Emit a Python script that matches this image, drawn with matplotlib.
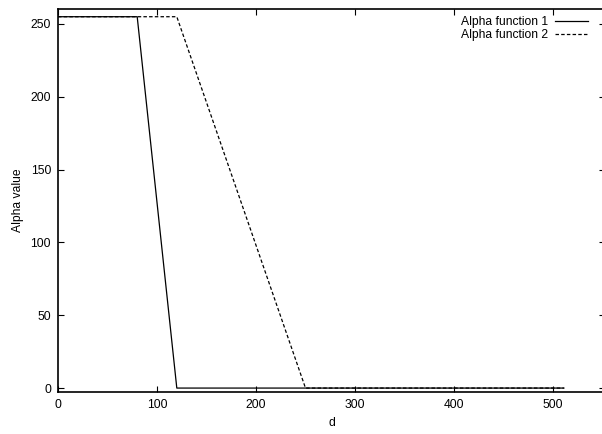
import matplotlib
matplotlib.use("Agg")
import matplotlib.pyplot as plt

d1 = [0, 80, 120, 511]
alpha1 = [255, 255, 0, 0]
d2 = [0, 120, 250, 511]
alpha2 = [255, 255, 0, 0]
xticks = [0, 100, 200, 300, 400, 500]
yticks = [0, 50, 100, 150, 200, 250]

plt.rcParams['font.family'] = ['Liberation Sans', 'DejaVu Sans']
plt.rcParams['lines.scale_dashes'] = False

fig = plt.figure(figsize=(6.02, 4.34), dpi=100)
ax = fig.add_axes([58/602, (434-392)/434, (605-58)/602, (392-9)/434])

ax.plot(d1, alpha1, color='black', lw=0.9, label='Alpha function 1')
ax.plot(d2, alpha2, color='black', lw=0.9, dashes=(2.5, 1.6), label='Alpha function 2')

ax.set_xlim(0, (605-58)/0.99)
ax.set_ylim(-2.7, 260.3)
ax.set_xticks(xticks)
ax.set_yticks(yticks)
ax.tick_params(direction='in', length=4, width=0.8, top=True, right=True,
               labelsize=8.7, pad=5, colors='black')
for s in ax.spines.values():
    s.set_linewidth(1.2)
ax.set_xlabel('d', fontsize=8.7, labelpad=4)
ax.set_ylabel('Alpha value', fontsize=8.7, labelpad=4.5)

leg = ax.legend(loc='upper right', frameon=False, fontsize=8.7, handlelength=2.8,
                markerfirst=False, handletextpad=0.5, labelspacing=0.05,
                bbox_to_anchor=(0.983, 1.0), borderaxespad=0.2)

fig.savefig('out.png', dpi=100)
